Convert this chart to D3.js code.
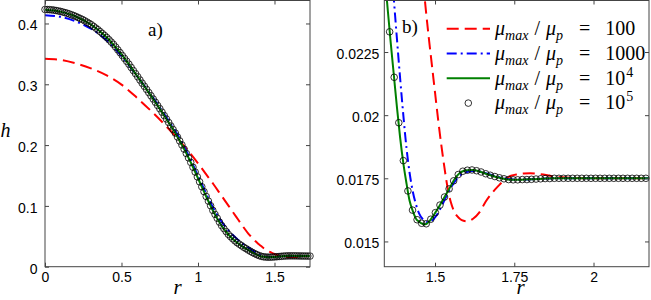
<!DOCTYPE html>
<html>
<head>
<meta charset="utf-8">
<script src="https://cdn.jsdelivr.net/npm/d3@7"></script>
<style>
  body { margin: 0; background: #fff; }
  #chart svg { display: block; }
  .sans { font-family: "Liberation Sans", Arimo, Arial, sans-serif; }
  .serif { font-family: "Liberation Serif", Tinos, "Times New Roman", "DejaVu Serif", serif; }
</style>
</head>
<body>
<div id="chart"></div>
<script>
// radius samples of the mu_max/mu_p = 1e5 run (drawn as circles)
var rDense = [
  0, 0.0144, 0.0289, 0.0433, 0.0577, 0.0722, 0.0866, 0.1010, 0.1155, 0.1299,
  0.1443, 0.1588, 0.1732, 0.1876, 0.2021, 0.2165, 0.2309, 0.2454, 0.2598, 0.2742,
  0.2887, 0.3031, 0.3175, 0.3320, 0.3464, 0.3608, 0.3753, 0.3897, 0.4041, 0.4186,
  0.4330, 0.4474, 0.4619, 0.4763, 0.4907, 0.5052, 0.5196, 0.5340, 0.5485, 0.5629,
  0.5774, 0.5918, 0.6062, 0.6207, 0.6351, 0.6495, 0.6640, 0.6784, 0.6928, 0.7073,
  0.7217, 0.7361, 0.7506, 0.7650, 0.7794, 0.7939, 0.8083, 0.8227, 0.8372, 0.8516,
  0.8660, 0.8805, 0.8949, 0.9093, 0.9238, 0.9382, 0.9526, 0.9671, 0.9815, 0.9959,
  1.0104, 1.0248, 1.0392, 1.0537, 1.0681, 1.0825, 1.0970, 1.1114, 1.1258, 1.1403,
  1.1547, 1.1691, 1.1836, 1.1980, 1.2124, 1.2269, 1.2413, 1.2557, 1.2702, 1.2846,
  1.2990, 1.3135, 1.3279, 1.3423, 1.3568, 1.3712, 1.3857, 1.4001, 1.4145, 1.4290,
  1.4434, 1.4578, 1.4723, 1.4867, 1.5011, 1.5156, 1.5300, 1.5444, 1.5588, 1.5733,
  1.5877, 1.6021, 1.6166, 1.6310, 1.6454, 1.6599, 1.6743, 1.6887, 1.7032, 1.7176,
  1.7321, 1.7465, 1.7609, 1.7754, 1.7898, 1.8042, 1.8187, 1.8331, 1.8475, 1.8620,
  1.8764, 1.8908, 1.9053, 1.9197, 1.9341, 1.9486, 1.9630, 1.9774, 1.9919, 2.0063,
  2.0207, 2.0352, 2.0496, 2.0640, 2.0785, 2.0929, 2.1073, 2.1218, 2.1362, 2.1506,
  2.1651, 2.1795
];
var hE5 = [
  0.4230, 0.4229, 0.4227, 0.4224, 0.4220, 0.4213, 0.4206, 0.4199, 0.4189, 0.4179,
  0.4169, 0.4157, 0.4143, 0.4130, 0.4115, 0.4098, 0.4081, 0.4064, 0.4044, 0.4023,
  0.4002, 0.3979, 0.3952, 0.3924, 0.3897, 0.3866, 0.3834, 0.3802, 0.3769, 0.3732,
  0.3694, 0.3657, 0.3612, 0.3566, 0.3520, 0.3473, 0.3425, 0.3378, 0.3330, 0.3278,
  0.3226, 0.3175, 0.3123, 0.3070, 0.3018, 0.2967, 0.2915, 0.2863, 0.2811, 0.2758,
  0.2704, 0.2651, 0.2598, 0.2541, 0.2485, 0.2429, 0.2372, 0.2314, 0.2256, 0.2198,
  0.2133, 0.2068, 0.2003, 0.1934, 0.1862, 0.1790, 0.1716, 0.1636, 0.1557, 0.1477,
  0.1396, 0.1315, 0.1235, 0.1155, 0.1079, 0.1003, 0.0926, 0.0860, 0.0797, 0.0733,
  0.0675, 0.0627, 0.0579, 0.0532, 0.0495, 0.0460, 0.0426, 0.0395, 0.0370, 0.0345,
  0.0320, 0.0298, 0.0275, 0.0254, 0.0233, 0.0215, 0.0197, 0.0182, 0.0170, 0.01624,
  0.01586, 0.01572, 0.01570, 0.01588, 0.01614, 0.01644, 0.01676, 0.01708, 0.01740, 0.01765,
  0.01778, 0.01782, 0.01783, 0.01780, 0.01775, 0.01768, 0.01762, 0.01757, 0.01752, 0.01748,
  0.01745, 0.01744, 0.01744, 0.01745, 0.01745, 0.01746, 0.01747, 0.01748, 0.01749, 0.01749,
  0.0175, 0.0175, 0.0175, 0.0175, 0.0175, 0.0175, 0.0175, 0.0175, 0.0175, 0.0175,
  0.0175, 0.0175, 0.0175, 0.0175, 0.0175, 0.0175, 0.0175, 0.0175, 0.0175, 0.0175,
  0.0175, 0.0175
];

// radius samples for the three line runs
var rLine = [
  0, 0.1, 0.2, 0.3, 0.4, 0.5, 0.6, 0.7, 0.8, 0.85, 0.9, 0.95, 1.0, 1.05, 1.1, 1.15, 1.2, 1.25, 1.3, 1.33, 1.35,
  1.36, 1.37, 1.38, 1.39, 1.40, 1.41, 1.42, 1.43, 1.44, 1.45, 1.46, 1.47, 1.48, 1.49, 1.50,
  1.51, 1.52, 1.53, 1.54, 1.55, 1.56, 1.57, 1.58, 1.59, 1.60,
  1.62, 1.64, 1.66, 1.68, 1.70, 1.72, 1.74, 1.76, 1.78, 1.80, 1.825, 1.85, 1.875, 1.90, 1.95, 2.00, 2.05, 2.10, 2.15, 2.20
];
// mu_max/mu_p = 100
var hE2 = [
  0.3420, 0.3402, 0.3345, 0.3262, 0.3150, 0.2995, 0.2780, 0.2545, 0.2290, 0.2155, 0.2010, 0.1860, 0.1700, 0.1530, 0.1360, 0.1180, 0.1000, 0.0820, 0.0640, 0.0540, 0.0485,
  0.0458, 0.0433, 0.0409, 0.0386, 0.0364, 0.0343, 0.0323, 0.0304, 0.0287, 0.0271, 0.0256, 0.0243, 0.0231, 0.0220, 0.0209,
  0.0198, 0.0188, 0.0179, 0.0171, 0.01655, 0.01620, 0.01600, 0.01588, 0.01582, 0.01580,
  0.01590, 0.01615, 0.01658, 0.01692, 0.01720, 0.01745, 0.01760, 0.01766, 0.01769, 0.01770, 0.01767, 0.01763, 0.01758, 0.01754, 0.01751, 0.0175, 0.0175, 0.0175, 0.0175, 0.0175
];
// mu_max/mu_p = 1000
var hE3 = [
  0.4137, 0.4110, 0.4035, 0.3915, 0.3730, 0.3465, 0.3140, 0.2800, 0.2430, 0.2240, 0.2020, 0.1770, 0.1495, 0.1220, 0.0965, 0.0755, 0.0595, 0.0470, 0.0365, 0.0313, 0.0279,
  0.0262, 0.0246, 0.0230, 0.02145, 0.0200, 0.0187, 0.0177, 0.01697, 0.01646, 0.01610, 0.01590, 0.01578, 0.01576, 0.01582, 0.01595,
  0.01614, 0.01638, 0.01664, 0.01690, 0.01713, 0.01733, 0.01750, 0.01762, 0.01770, 0.01775,
  0.01779, 0.01777, 0.01770, 0.01762, 0.01755, 0.01749, 0.01746, 0.01745, 0.01745, 0.01746, 0.01748, 0.01749, 0.0175, 0.0175, 0.0175, 0.0175, 0.0175, 0.0175, 0.0175, 0.0175
];
// mu_max/mu_p = 1e4
var hE4 = [
  0.4225, 0.4195, 0.4115, 0.3983, 0.3778, 0.3490, 0.3145, 0.2785, 0.2405, 0.2205, 0.1980, 0.1730, 0.1455, 0.1175, 0.0910, 0.0690, 0.0525, 0.0405, 0.0318, 0.0272, 0.0243,
  0.0229, 0.0216, 0.0203, 0.0191, 0.0181, 0.0173, 0.0166, 0.0162, 0.0159, 0.01578, 0.01570, 0.01568, 0.01577, 0.01593, 0.01612,
  0.01632, 0.01654, 0.01676, 0.01698, 0.01720, 0.01743, 0.01761, 0.01773, 0.01779, 0.01782,
  0.01783, 0.01777, 0.01768, 0.01760, 0.01753, 0.01747, 0.01744, 0.01744, 0.01745, 0.01746, 0.01747, 0.01749, 0.0175, 0.0175, 0.0175, 0.0175, 0.0175, 0.0175, 0.0175, 0.0175
];

var ticksAX = [0, 0.5, 1, 1.5];
var ticksAY = [0, 0.1, 0.2, 0.3, 0.4];
var ticksBX = [1.5, 1.75, 2];
var ticksBY = [0.015, 0.0175, 0.02, 0.0225];
var legendBase = ['100', '1000', '10', '10'];
var legendExp = ['', '', '4', '5'];

var W = 651, H = 300;

var svg = d3.select('#chart').append('svg')
  .attr('width', W).attr('height', H)
  .style('background', '#fff');

var styles = [
  { h: hE2, color: '#ff0000', dash: '12,6' },
  { h: hE3, color: '#0000ff', dash: '10,4,2,4' },
  { h: hE4, color: '#008000', dash: null }
];

function fmtTick(v) { return String(+v.toFixed(4)); }

function drawPanel(p) {
  var x = d3.scaleLinear().domain(p.xDom).range([p.left, p.right]);
  var y = d3.scaleLinear().domain(p.yDom).range([p.bottom, p.top]);
  var g = svg.append('g');

  g.append('clipPath').attr('id', p.id + '-clip')
    .append('rect')
    .attr('x', p.left).attr('y', p.top)
    .attr('width', p.right - p.left).attr('height', p.bottom - p.top);

  var line = d3.line()
    .x(function(d){ return x(d[0]); })
    .y(function(d){ return y(d[1]); })
    .curve(d3.curveMonotoneX);

  styles.forEach(function(s){
    var pts = rLine.map(function(r, i){ return [r, s.h[i]]; });
    g.append('path')
      .datum(pts)
      .attr('clip-path', 'url(#' + p.id + '-clip)')
      .attr('fill', 'none')
      .attr('stroke', s.color)
      .attr('stroke-width', 2)
      .attr('stroke-dasharray', s.dash)
      .attr('d', line);
  });

  // markers are only drawn when the centre is inside the axes (matlab style)
  var pts = rDense.map(function(r, i){ return [r, hE5[i]]; })
    .filter(function(d){
      return d[0] >= p.xDom[0] && d[0] <= p.xDom[1] + 1e-4 &&
             d[1] >= p.yDom[0] && d[1] <= p.yDom[1];
    });
  g.selectAll('circle.pt').data(pts).enter()
    .append('circle')
    .attr('class', 'pt')
    .attr('cx', function(d){ return x(d[0]); })
    .attr('cy', function(d){ return y(d[1]); })
    .attr('r', 3.3)
    .attr('fill', 'none')
    .attr('stroke', '#000')
    .attr('stroke-width', 0.8);

  // axes, ticks pointing inwards on all four sides
  var axB = g.append('g').attr('transform', 'translate(0,' + p.bottom + ')')
    .call(d3.axisBottom(x).tickValues(p.ticksX).tickSize(-4).tickPadding(5.3).tickFormat(fmtTick));
  var axL = g.append('g').attr('transform', 'translate(' + p.left + ',0)')
    .call(d3.axisLeft(y).tickValues(p.ticksY).tickSize(-4).tickPadding(p.yPad).tickFormat(fmtTick));
  var axT = g.append('g').attr('transform', 'translate(0,' + p.top + ')')
    .call(d3.axisTop(x).tickValues(p.ticksX).tickSize(-4).tickFormat(''));
  var axR = g.append('g').attr('transform', 'translate(' + p.right + ',0)')
    .call(d3.axisRight(y).tickValues(p.ticksY).tickSize(-4).tickFormat(''));

  [axB, axL, axT, axR].forEach(function(a){
    a.attr('font-family', null).attr('font-size', null);
    a.select('.domain').remove();
    a.selectAll('line').attr('stroke', '#444');
    a.selectAll('text')
      .attr('class', 'sans')
      .attr('fill', '#000')
      .attr('font-size', 14);
  });
  axL.selectAll('text').attr('dy', '0.45em');

  g.append('rect')
    .attr('x', p.left).attr('y', p.top)
    .attr('width', p.right - p.left).attr('height', p.bottom - p.top)
    .attr('fill', 'none').attr('stroke', '#444').attr('stroke-width', 1);

  g.append('text')
    .attr('class', 'serif')
    .attr('x', (p.left + p.right) / 2 + p.rShift).attr('y', 294)
    .attr('text-anchor', 'middle')
    .attr('font-style', 'italic').attr('font-size', 21)
    .text('r');

  g.append('text')
    .attr('class', 'serif')
    .attr('x', p.tagX).attr('y', p.tagY)
    .attr('font-size', 19)
    .text(p.tag);

  return { x: x, y: y, g: g };
}

var pa = drawPanel({
  id: 'pa', left: 45, right: 310, top: 0.5, bottom: 266.7,
  xDom: [0, 1.7321], yDom: [0, 0.4378],
  ticksX: ticksAX, ticksY: ticksAY, yPad: 7.5,
  tag: 'a)', tagX: 148, tagY: 36, rShift: 0
});
var pb = drawPanel({
  id: 'pb', left: 384.3, right: 649, top: 0.5, bottom: 266.7,
  xDom: [1.34, 2.175], yDom: [0.014, 0.02454],
  ticksX: ticksBX, ticksY: ticksBY, yPad: 5,
  tag: 'b)', tagX: 402, tagY: 33, rShift: 4
});

// y label of panel a
svg.append('text')
  .attr('class', 'serif')
  .attr('x', 0.5).attr('y', 137)
  .attr('font-style', 'italic').attr('font-size', 20)
  .text('h');

// legend
var leg = pb.g.append('g');
var rowBase = [35, 59.8, 84.6, 109.4];
legendBase.forEach(function(num, i){
  var cy = rowBase[i] - 6.3;
  if (i < 3) {
    leg.append('line')
      .attr('x1', 446.7).attr('x2', 490).attr('y1', cy).attr('y2', cy)
      .attr('stroke', styles[i].color).attr('stroke-width', 2)
      .attr('stroke-dasharray', styles[i].dash);
  } else {
    leg.append('circle')
      .attr('cx', 468.3).attr('cy', cy).attr('r', 3.3)
      .attr('fill', 'none').attr('stroke', '#000').attr('stroke-width', 0.8);
  }
  var t = leg.append('text')
    .attr('class', 'serif')
    .attr('x', 495).attr('y', rowBase[i])
    .attr('font-size', 20);
  t.append('tspan').attr('font-style', 'italic').text('μ');
  t.append('tspan').attr('font-style', 'italic').attr('font-size', 14).attr('dy', 5).text('max');
  t.append('tspan').attr('dy', -5).attr('dx', 6).text('/');
  t.append('tspan').attr('font-style', 'italic').attr('dx', 6).text('μ');
  t.append('tspan').attr('font-style', 'italic').attr('font-size', 14).attr('dy', 5).text('p');
  t.append('tspan').attr('dy', -5).attr('dx', 16).text('=');
  t.append('tspan').attr('dx', 15).text(num);
  if (legendExp[i]) {
    t.append('tspan').attr('font-size', 14).attr('dy', -8).attr('dx', 1).text(legendExp[i]);
  }
});
</script>
</body>
</html>
